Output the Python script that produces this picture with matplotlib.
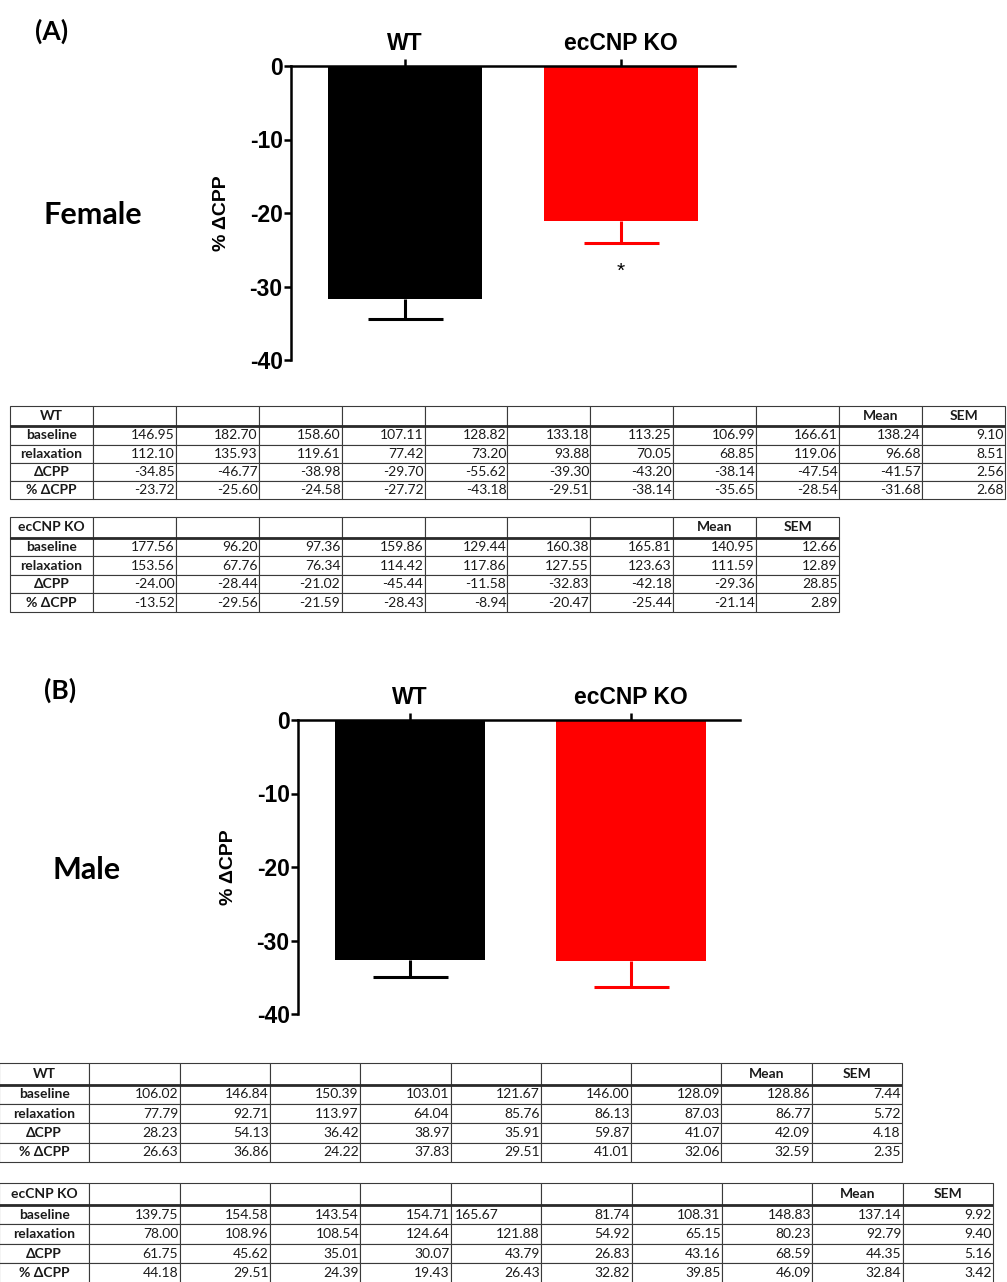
import numpy as np
import matplotlib
matplotlib.use("Agg")
import matplotlib.pyplot as plt

plt.rcParams["axes.unicode_minus"] = False

W, H = 1007, 1282

groups = ["WT", "ecCNP KO"]
bar_colors = ["black", "#ff0000"]
row_labels = ["baseline", "relaxation", "\u0394CPP", "% \u0394CPP"]

# Female, WT
f_wt_baseline = [146.95, 182.70, 158.60, 107.11, 128.82, 133.18, 113.25, 106.99, 166.61]
f_wt_relax = [112.10, 135.93, 119.61, 77.42, 73.20, 93.88, 70.05, 68.85, 119.06]
f_wt_dcpp = [-34.85, -46.77, -38.98, -29.70, -55.62, -39.30, -43.20, -38.14, -47.54]
f_wt_pct = [-23.72, -25.60, -24.58, -27.72, -43.18, -29.51, -38.14, -35.65, -28.54]
f_wt_mean = [138.24, 96.68, -41.57, -31.68]
f_wt_sem = [9.10, 8.51, 2.56, 2.68]

# Female, ecCNP KO
f_ko_baseline = [177.56, 96.20, 97.36, 159.86, 129.44, 160.38, 165.81]
f_ko_relax = [153.56, 67.76, 76.34, 114.42, 117.86, 127.55, 123.63]
f_ko_dcpp = [-24.00, -28.44, -21.02, -45.44, -11.58, -32.83, -42.18]
f_ko_pct = [-13.52, -29.56, -21.59, -28.43, -8.94, -20.47, -25.44]
f_ko_mean = [140.95, 111.59, -29.36, -21.14]
f_ko_sem = [12.66, 12.89, 28.85, 2.89]

# Male, WT
m_wt_baseline = [106.02, 146.84, 150.39, 103.01, 121.67, 146.00, 128.09]
m_wt_relax = [77.79, 92.71, 113.97, 64.04, 85.76, 86.13, 87.03]
m_wt_dcpp = [28.23, 54.13, 36.42, 38.97, 35.91, 59.87, 41.07]
m_wt_pct = [26.63, 36.86, 24.22, 37.83, 29.51, 41.01, 32.06]
m_wt_mean = [128.86, 86.77, 42.09, 32.59]
m_wt_sem = [7.44, 5.72, 4.18, 2.35]

# Male, ecCNP KO
m_ko_baseline = [139.75, 154.58, 143.54, 154.71, 165.67, 81.74, 108.31, 148.83]
m_ko_relax = [78.00, 108.96, 108.54, 124.64, 121.88, 54.92, 65.15, 80.23]
m_ko_dcpp = [61.75, 45.62, 35.01, 30.07, 43.79, 26.83, 43.16, 68.59]
m_ko_pct = [44.18, 29.51, 24.39, 19.43, 26.43, 32.82, 39.85, 46.09]
m_ko_mean = [137.14, 92.79, 44.35, 32.84]
m_ko_sem = [9.92, 9.40, 5.16, 3.42]

bar_font = "Liberation Sans"
table_font = "Lato"

fig = plt.figure(figsize=(W / 100, H / 100), dpi=100)


def px_box(x0, y0, x1, y1):
    return [x0 / W, 1 - y1 / H, (x1 - x0) / W, (y1 - y0) / H]


def bar_panel(box, means, sems, xlim, width, star=False):
    ax = fig.add_axes(px_box(*box))
    x = np.arange(len(groups))
    ax.bar(x, means, width=width, color=bar_colors, zorder=2)
    for xi, m, s, c in zip(x, means, sems, bar_colors):
        eb = ax.errorbar(xi, m, yerr=[[s], [0]], fmt="none", ecolor=c,
                         elinewidth=2.2, capsize=27, capthick=2.2, zorder=1)
        # keep only the cap below the bar end
        for cap in eb[1]:
            if np.allclose(cap.get_ydata(), m):
                cap.set_visible(False)
    ax.set_xlim(*xlim)
    ax.set_ylim(-40, 0)
    ax.set_yticks([0, -10, -20, -30, -40])
    ax.xaxis.tick_top()
    ax.set_xticks(x)
    ax.set_xticklabels(groups, fontfamily=bar_font, fontweight="bold", fontsize=16.5)
    for lbl in ax.get_yticklabels():
        lbl.set_fontfamily(bar_font)
        lbl.set_fontweight("bold")
        lbl.set_fontsize(16.5)
    ax.tick_params(axis="y", length=5, width=1.8, pad=1)
    ax.tick_params(axis="x", length=5, width=1.8, pad=3)
    for side in ["bottom", "right"]:
        ax.spines[side].set_visible(False)
    for side in ["top", "left"]:
        ax.spines[side].set_linewidth(1.8)
    ax.set_ylabel("% \u0394CPP", fontfamily=bar_font, fontweight="bold",
                  fontsize=14, labelpad=14)
    if star:
        ax.text(1, means[1] - sems[1] - 3.9, "*", ha="center", va="center",
                fontfamily=bar_font, fontsize=15)
    return ax


def data_table(box, head, series, mean, sem, left_cells=()):
    ax = fig.add_axes(px_box(*box))
    ax.axis("off")
    nvals = len(series[0])
    cells = [[head] + [""] * nvals + ["Mean", "SEM"]]
    for lab, vals, m, s in zip(row_labels, series, mean, sem):
        cells.append([lab] + [f"{v:.2f}" for v in vals] + [f"{m:.2f}", f"{s:.2f}"])
    tbl = ax.table(cellText=cells, cellLoc="right", bbox=[0, 0, 1, 1])
    tbl.auto_set_font_size(False)
    head_h, row_h = 1.12, 1.0
    for (r, c), cell in tbl.get_celld().items():
        cell.set_linewidth(0.8)
        cell.set_edgecolor("#3a3a3a")
        cell.set_height(head_h if r == 0 else row_h)
        txt = cell.get_text()
        txt.set_fontfamily(table_font)
        txt.set_fontsize(10)
        txt.set_color("#1a1a1a")
        cell.PAD = 0.015
        if r == 0 or c == 0:
            txt.set_horizontalalignment("center")
            txt.set_fontweight("bold")
        if (r, c) in left_cells:
            txt.set_horizontalalignment("left")
            cell.PAD = 0.05
    # heavier rule under the header row
    y_rule = 1 - head_h / (head_h + len(row_labels) * row_h)
    ax.axhline(y_rule, color="#2a2a2a", lw=2.0)
    return tbl


# (A) female
bar_panel((291, 66, 735, 360), f_wt_mean[3:] + f_ko_mean[3:],
          f_wt_sem[3:] + f_ko_sem[3:], (-0.528, 1.528), 0.71, star=True)
fig.text(52 / W, 1 - 31 / H, "(A)", ha="center", va="center",
         fontfamily=table_font, fontweight="bold", fontsize=19)
fig.text(93 / W, 1 - 215 / H, "Female", ha="center", va="center",
         fontfamily=table_font, fontweight="bold", fontsize=22)

data_table((10, 406, 1005, 499), "WT",
           [f_wt_baseline, f_wt_relax, f_wt_dcpp, f_wt_pct], f_wt_mean, f_wt_sem)
data_table((10, 517, 839, 612), "ecCNP KO",
           [f_ko_baseline, f_ko_relax, f_ko_dcpp, f_ko_pct], f_ko_mean, f_ko_sem)

# (B) male, plotted as decreases
male_means = [-m_wt_mean[3], -m_ko_mean[3]]
male_sems = [m_wt_sem[3], m_ko_sem[3]]
bar_panel((298, 720, 740, 1014), male_means, male_sems, (-0.507, 1.493), 0.68)
fig.text(60 / W, 1 - 690 / H, "(B)", ha="center", va="center",
         fontfamily=table_font, fontweight="bold", fontsize=19)
fig.text(87 / W, 1 - 870 / H, "Male", ha="center", va="center",
         fontfamily=table_font, fontweight="bold", fontsize=22)

data_table((-1, 1063, 902, 1162), "WT",
           [m_wt_baseline, m_wt_relax, m_wt_dcpp, m_wt_pct], m_wt_mean, m_wt_sem)
data_table((-1, 1183, 993, 1283), "ecCNP KO",
           [m_ko_baseline, m_ko_relax, m_ko_dcpp, m_ko_pct], m_ko_mean, m_ko_sem,
           left_cells={(1, 5)})

fig.savefig("out.png", dpi=100)
